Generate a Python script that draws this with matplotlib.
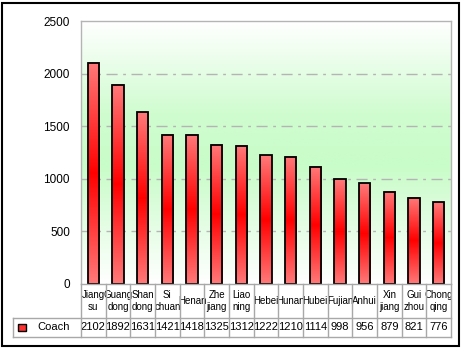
import numpy as np
import matplotlib
matplotlib.use("Agg")
import matplotlib.pyplot as plt
from matplotlib.colors import LinearSegmentedColormap
from matplotlib.patches import Rectangle

provinces = ["Jiang\nsu", "Guang\ndong", "Shan\ndong", "Si\nchuan", "Henan",
             "Zhe\njiang", "Liao\nning", "Hebei", "Hunan", "Hubei", "Fujian",
             "Anhui", "Xin\njiang", "Gui\nzhou", "Chong\nqing"]
coach = [2102, 1892, 1631, 1421, 1418, 1325, 1312, 1222, 1210, 1114, 998,
         956, 879, 821, 776]
series_name = "Coach"
yticks = [0, 500, 1000, 1500, 2000, 2500]

plt.rcParams['font.family'] = ['Liberation Sans', 'DejaVu Sans']

W, H = 463, 349
fig = plt.figure(figsize=(W / 100, H / 100), dpi=100)
fig.patch.set_facecolor("white")

# plot area in pixels
px_l, px_r, px_t, px_b = 81, 451, 21, 284
ax = fig.add_axes([px_l / W, 1 - px_b / H, (px_r - px_l) / W, (px_b - px_t) / H])

n = len(coach)
ax.set_xlim(-0.5, n - 0.5)
ax.set_ylim(0, 2500)

# background: white at top, green in the middle, white again at the bottom
bg_cmap = LinearSegmentedColormap.from_list(
    "bg", [(0, "#ffffff"), (0.45, "#c8fcc8"), (0.65, "#d0fcd0"), (1, "#ffffff")])
ax.imshow(np.linspace(1, 0, 256).reshape(-1, 1), cmap=bg_cmap, aspect="auto",
          extent=[-0.5, n - 0.5, 0, 2500], zorder=0, vmin=0, vmax=1)

for v in yticks[1:-1]:
    ax.axhline(v, color="#b4b4b4", lw=1, ls=(0, (8, 4, 2, 4)), zorder=1)

# bars: light red at the ends, deep red in the middle
bar_cmap = LinearSegmentedColormap.from_list(
    "bar", ["#ff7a7a", "#ff0000", "#ff7a7a"])
grad = np.linspace(0, 1, 256).reshape(-1, 1)
bw = 0.45
for i, v in enumerate(coach):
    ax.imshow(grad, cmap=bar_cmap, aspect="auto",
              extent=[i - bw / 2, i + bw / 2, 0, v], zorder=2)
ax.bar(range(n), coach, width=bw, facecolor="none", edgecolor="black",
       lw=1.3, zorder=3)

ax.set_xlim(-0.5, n - 0.5)
ax.set_ylim(0, 2500)
ax.set_yticks(yticks)
ax.set_yticklabels([str(t) for t in yticks], fontsize=8.5)
ax.tick_params(axis="y", length=0, pad=8)
ax.set_xticks([])
for s in ax.spines.values():
    s.set_color("#b4b4b4")
    s.set_linewidth(1)
ax.spines["bottom"].set_visible(False)

# data table under the bars
tr = ax.get_xaxis_transform()
row1 = -34 / (px_b - px_t)
row2 = -53 / (px_b - px_t)
leg_x = -0.5 - (px_l - 13) / (px_r - px_l) * n
grid_kw = dict(color="#a8a8a8", lw=1, transform=tr, clip_on=False, zorder=5)
ax.plot([-0.5, n - 0.5], [0, 0], **grid_kw)
ax.plot([leg_x, n - 0.5], [row1, row1], **grid_kw)
ax.plot([leg_x, n - 0.5], [row2, row2], **grid_kw)
ax.plot([leg_x, leg_x], [row1, row2], **grid_kw)
for i in range(n + 1):
    ax.plot([i - 0.5, i - 0.5], [0, row2], **grid_kw)

for i, (name, v) in enumerate(zip(provinces, coach)):
    ax.text(i, row1 / 2, name, transform=tr, ha="center", va="center",
            fontsize=7, linespacing=1.25, clip_on=False)
    ax.text(i, (row1 + row2) / 2, str(v), transform=tr, ha="center",
            va="center", fontsize=8, clip_on=False)

# legend cell
mk_x = leg_x + 0.2
ax.add_patch(Rectangle((mk_x, (row1 + row2) / 2 - 0.015), 0.32, 0.03,
                       transform=tr, facecolor="#ff3030", edgecolor="black",
                       lw=1, clip_on=False))
ax.text(leg_x + 1.0, (row1 + row2) / 2, series_name, transform=tr,
        ha="left", va="center", fontsize=8, clip_on=False)

# outer frame
fig.add_artist(Rectangle((2 / W, 3 / H), (459 - 2) / W, (346 - 3) / H,
                         transform=fig.transFigure, fill=False,
                         edgecolor="black", lw=1.5))

fig.savefig("out.png", dpi=100)
